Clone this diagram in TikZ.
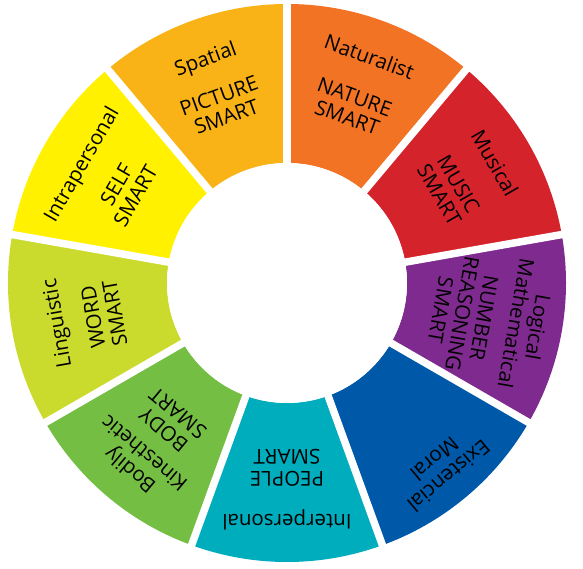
\documentclass[tikz,border=0pt]{standalone}
\usepackage{fontspec}
\setmainfont{Open Sans}
\definecolor{cSpatial}{HTML}{FAB317}
\definecolor{cNatur}{HTML}{F37325}
\definecolor{cMusic}{HTML}{D5232C}
\definecolor{cLogic}{HTML}{7F2A8F}
\definecolor{cExist}{HTML}{0058A8}
\definecolor{cInter}{HTML}{00ADBD}
\definecolor{cBody}{HTML}{75BE44}
\definecolor{cLing}{HTML}{CBDB2D}
\definecolor{cIntra}{HTML}{FFF100}
\tikzset{
  lbl/.style={align=center, inner sep=0pt, font=\fontsize{20.5}{22}\selectfont, text=black},
  gapline/.style={white, line width=7.5pt},
}
\newcommand{\sector}[2]{%
  \fill[#2] (#1:279pt) arc[start angle=#1, end angle=#1+40, radius=279pt]
    -- ({#1+40}:120pt) arc[start angle=#1+40, end angle=#1, radius=120pt] -- cycle;}
\begin{document}
\begin{tikzpicture}
\useasboundingbox (-287pt,-286pt) rectangle (296pt,283pt);
\coordinate (c) at (0,0);
\sector{90}{cSpatial}
\sector{50}{cNatur}
\sector{10}{cMusic}
\sector{-30}{cLogic}
\sector{-70}{cExist}
\sector{-110}{cInter}
\sector{-150}{cBody}
\sector{170}{cLing}
\sector{130}{cIntra}
\foreach \a in {90,50,10,-30,-70,-110,-150,170,130}
  \draw[gapline] (c) -- (\a:290pt);
\fill[white] (c) circle[radius=120pt];
% labels
\node[lbl, rotate=20] (t1) at (110:237pt) {Spatial};
\node[lbl, rotate=20] (s1) at (110:188pt) {PICTURE\\SMART};
\node[lbl, rotate=-20] (t2) at (70:241pt) {Naturalist};
\node[lbl, rotate=-20] (s2) at (70:187pt) {NATURE\\SMART};
\node[lbl, rotate=-60] (t3) at (30:240pt) {Musical};
\node[lbl, rotate=-60] (s3) at (30:187pt) {MUSIC\\SMART};
\node[lbl, rotate=-100] (t4) at (-10:244pt) {Logical\\Mathematical};
\node[lbl, rotate=-100] (s4) at (-10:178pt) {NUMBER\\REASONING\\SMART};
\node[lbl, rotate=-140] (t5) at (-50:241pt) {Existencial\\Moral};
\node[lbl, rotate=-180] (t6) at (-90:237pt) {Interpersonal};
\node[lbl, rotate=-180] (s6) at (-90:185pt) {PEOPLE\\SMART};
\node[lbl, rotate=140] (t7) at (-130:234pt) {Bodily\\Kinesthetic};
\node[lbl, rotate=140] (s7) at (-130:181pt) {BODY\\SMART};
\node[lbl, rotate=100] (t8) at (190:232pt) {Linguistic};
\node[lbl, rotate=100] (s8) at (190:186pt) {WORD\\SMART};
\node[lbl, rotate=60] (t9) at (150:236pt) {Intrapersonal};
\node[lbl, rotate=60] (s9) at (150:186pt) {SELF\\SMART};
\end{tikzpicture}
\end{document}
